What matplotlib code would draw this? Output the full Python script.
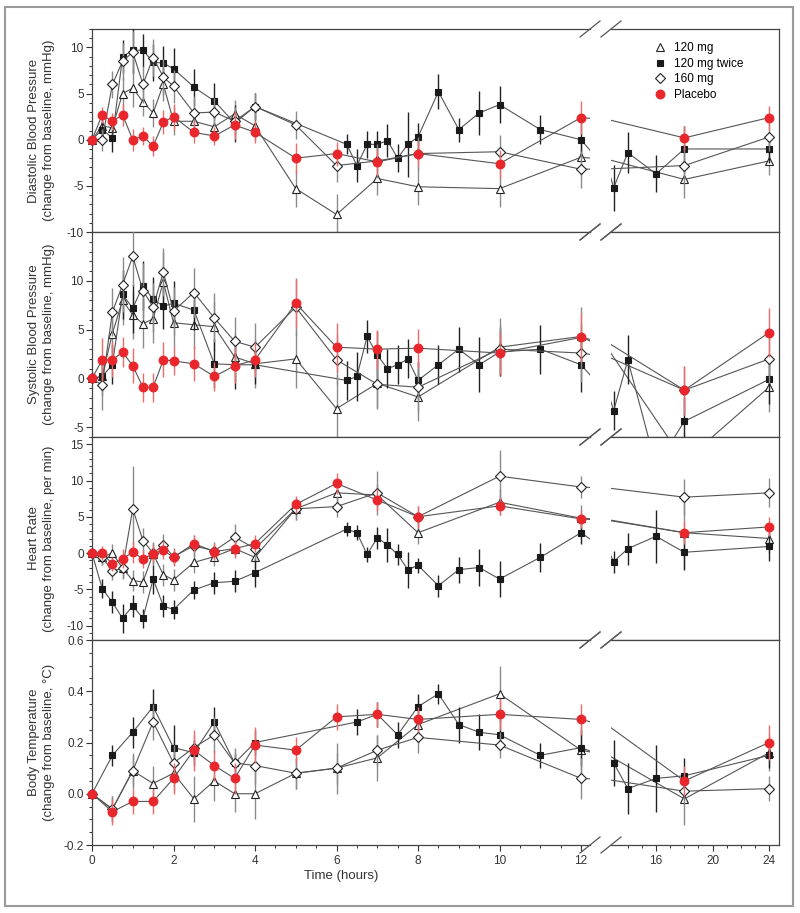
import matplotlib
matplotlib.use("Agg")
import matplotlib.pyplot as plt
import numpy as np
from matplotlib.patches import Rectangle

plt.rcParams['font.family'] = ['Liberation Sans', 'DejaVu Sans']

# ---------------- time points ----------------
t_main = [0, .25, .5, .75, 1, 1.25, 1.5, 1.75, 2, 2.5, 3, 3.5, 4, 5, 6, 7, 8, 10, 12, 18, 24]
t_twice = [0, .25, .5, .75, 1, 1.25, 1.5, 1.75, 2, 2.5, 3, 3.5, 4, 6.25, 6.5, 6.75, 7, 7.25, 7.5,
           7.75, 8, 8.5, 9, 9.5, 10, 11, 12, 13, 14, 16, 18, 24]
t_temp = [0, .5, 1, 1.5, 2, 2.5, 3, 3.5, 4, 5, 6, 7, 8, 10, 12, 18, 24]
t_temp_twice = [0, .5, 1, 1.5, 2, 2.5, 3, 3.5, 4, 6.5, 7, 7.5, 8, 8.5, 9, 9.5, 10, 11, 12, 13, 14, 16, 18, 24]

series_labels = ["120 mg", "120 mg twice", "160 mg", "Placebo"]

# ---------------- Diastolic BP ----------------
dbp_120 = [0, 1.5, 1.3, 5.0, 5.6, 4.1, 2.9, 6.0, 2.0, 2.0, 1.4, 2.8, 1.5, -5.3, -8.1, -4.2, -5.1, -5.3, -1.9, -4.3, -2.3]
dbp_120_err = [0, 1.2, 1.2, 1.8, 2.0, 1.5, 1.5, 1.8, 1.5, 1.5, 1.5, 1.5, 1.5, 2.0, 2.2, 1.8, 2.0, 2.0, 2.0, 2.0, 1.5]
dbp_twice = [0, 1.1, 0.2, 9.0, 9.7, 9.7, 8.4, 8.3, 7.7, 5.7, 4.2, 1.8, 3.6, -0.5, -2.8, -0.5, -0.5, -0.1, -2.0,
             -0.5, 0.3, 5.2, 1.1, 2.9, 3.8, 1.1, 0.0, -5.2, -1.4, -3.7, -1.0, -1.0]
dbp_twice_err = [0, 1.0, 1.5, 1.8, 2.5, 1.8, 2.0, 1.9, 2.2, 2.0, 2.0, 2.0, 1.5, 1.1, 1.8, 1.5, 1.5, 1.8, 1.5,
                 3.5, 1.5, 1.9, 1.3, 2.4, 2.0, 1.6, 2.0, 2.5, 2.2, 2.0, 2.5, 1.5]
dbp_160 = [0, 0.0, 6.0, 8.5, 9.5, 6.0, 8.9, 6.8, 5.8, 2.9, 3.0, 2.0, 3.6, 1.6, -2.8, -2.3, -1.5, -1.3, -3.2, -2.8, 0.3]
dbp_160_err = [0, 1.2, 1.5, 2.0, 2.3, 2.0, 2.0, 2.0, 1.8, 1.8, 1.5, 1.5, 1.5, 1.5, 1.8, 1.8, 1.8, 1.8, 2.0, 2.0, 1.5]
dbp_plc = [0, 2.7, 2.0, 2.7, 0.0, 0.4, -0.7, 1.9, 2.5, 0.8, 0.4, 1.6, 0.8, -2.0, -1.5, -2.4, -1.5, -2.6, 2.4, 0.2, 2.4]
dbp_plc_err = [0, 0.9, 0.9, 1.2, 1.2, 1.0, 1.1, 1.3, 1.4, 1.2, 1.0, 1.5, 1.2, 1.6, 1.3, 1.4, 1.4, 1.5, 1.8, 1.3, 1.3]

# ---------------- Systolic BP ----------------
sbp_120 = [0, 0.2, 4.6, 8.0, 6.5, 5.6, 6.1, 9.9, 5.7, 5.5, 5.3, 2.2, 1.5, 2.0, -3.1, -0.5, -1.9, 3.2, 4.3, -8.5, -0.9]
sbp_120_err = [0, 2.0, 2.0, 2.5, 2.5, 2.5, 2.5, 3.0, 2.5, 2.5, 2.5, 2.5, 2.5, 3.0, 3.5, 2.5, 2.5, 3.0, 3.0, 3.0, 2.5]
sbp_twice = [0, 0.2, 1.4, 8.6, 7.2, 9.5, 8.1, 7.4, 7.7, 7.0, 1.5, 1.4, 1.4, -0.2, 0.2, 4.3, 2.4, 1.0, 1.4,
             2.0, -0.2, 1.4, 3.0, 1.4, 2.7, 3.0, 1.4, -3.3, 1.9, -9.0, -4.4, -0.1]
sbp_twice_err = [0, 1.5, 2.0, 2.5, 2.5, 2.5, 2.3, 2.3, 2.3, 2.0, 2.5, 2.5, 2.0, 2.0, 2.5, 1.7, 2.5, 2.0, 2.0,
                 2.0, 2.0, 2.0, 2.3, 2.8, 2.5, 2.5, 2.8, 2.0, 2.5, 2.5, 2.5, 2.5]
sbp_160 = [0, -0.7, 6.8, 9.6, 12.5, 9.0, 7.3, 10.9, 6.9, 8.8, 6.2, 3.8, 3.2, 7.3, 1.9, -0.6, -0.9, 3.0, 2.6, -1.2, 2.0]
sbp_160_err = [0, 2.5, 2.5, 2.8, 3.0, 2.8, 2.5, 2.5, 2.5, 2.5, 2.5, 2.5, 2.5, 3.0, 2.5, 2.5, 2.5, 2.5, 3.0, 2.5, 2.5]
sbp_plc = [0, 1.9, 1.9, 2.7, 1.3, -0.9, -0.9, 1.9, 1.8, 1.5, 0.2, 1.3, 1.9, 7.7, 3.2, 3.0, 3.1, 2.6, 4.2, -1.2, 4.7]
sbp_plc_err = [0, 2.2, 1.8, 1.5, 1.8, 1.5, 1.5, 1.8, 1.5, 1.8, 1.5, 1.8, 1.8, 2.5, 2.5, 2.0, 2.0, 2.2, 2.5, 2.5, 2.5]

# ---------------- Heart rate ----------------
hr_120 = [0, -0.6, 0.0, -2.1, -3.8, -4.0, -0.1, -3.0, -3.7, -1.3, -0.5, 0.6, -0.6, 6.1, 8.3, 8.0, 2.8, 7.0, 4.8, 2.8, 2.0]
hr_120_err = [0, 1.0, 1.2, 1.5, 1.5, 1.5, 1.5, 1.5, 1.5, 1.5, 1.3, 1.3, 1.5, 1.5, 1.8, 1.5, 1.5, 1.8, 1.8, 5.0, 2.0]
hr_twice = [0, -4.9, -6.8, -9.0, -7.3, -9.0, -3.6, -7.3, -7.8, -5.1, -4.1, -3.9, -2.7, 3.3, 2.8, -0.2, 2.1, 1.1,
            -0.2, -2.3, -1.7, -4.5, -2.3, -2.0, -3.6, -0.6, 2.8, -1.2, 0.6, 2.3, 0.1, 0.9]
hr_twice_err = [0, 1.3, 1.5, 2.0, 1.5, 1.3, 2.0, 1.5, 1.3, 1.3, 1.5, 1.5, 2.0, 1.0, 1.0, 1.0, 1.5, 2.3, 1.5,
                2.5, 1.0, 1.5, 1.8, 2.5, 2.5, 2.0, 1.5, 1.5, 2.2, 3.7, 2.5, 2.0]
hr_160 = [0, -0.6, -2.5, -2.1, 6.1, 1.7, 0.0, 1.1, -0.5, 1.0, 0.3, 2.2, 0.6, 6.1, 6.4, 8.3, 5.0, 10.6, 9.1, 7.7, 8.3]
hr_160_err = [0, 1.0, 1.2, 1.3, 5.9, 1.8, 1.5, 1.5, 1.2, 1.5, 1.2, 1.8, 1.5, 1.5, 1.5, 3.0, 1.5, 3.6, 1.5, 2.5, 2.0]
hr_plc = [0, 0.0, -1.5, -0.8, 0.1, -0.8, -0.1, 0.4, -0.6, 1.3, 0.2, 0.6, 1.3, 6.7, 9.6, 7.3, 5.0, 6.5, 4.7, 2.8, 3.6]
hr_plc_err = [0, 1.0, 1.0, 1.3, 1.5, 1.2, 1.2, 1.2, 1.2, 1.2, 1.2, 1.2, 1.2, 1.2, 1.5, 1.5, 1.5, 1.2, 1.2, 1.5, 1.3]

# ---------------- Body temperature ----------------
bt_120 = [0, -0.06, 0.09, 0.04, 0.08, -0.02, 0.05, 0.0, 0.0, 0.08, 0.10, 0.14, 0.27, 0.39, 0.17, -0.02, 0.16]
bt_120_err = [0, 0.05, 0.07, 0.07, 0.07, 0.09, 0.08, 0.07, 0.10, 0.06, 0.10, 0.09, 0.07, 0.11, 0.10, 0.10, 0.07]
bt_twice = [0, 0.15, 0.24, 0.34, 0.18, 0.16, 0.28, 0.12, 0.20, 0.28, 0.31, 0.23, 0.34, 0.39, 0.27, 0.24, 0.23,
            0.15, 0.18, 0.12, 0.02, 0.06, 0.07, 0.15]
bt_twice_err = [0, 0.04, 0.06, 0.07, 0.09, 0.05, 0.06, 0.04, 0.05, 0.05, 0.05, 0.05, 0.05, 0.04, 0.07, 0.07,
                0.06, 0.05, 0.07, 0.09, 0.10, 0.13, 0.07, 0.05]
bt_160 = [0, -0.06, 0.09, 0.28, 0.12, 0.18, 0.23, 0.12, 0.11, 0.08, 0.10, 0.17, 0.22, 0.19, 0.06, 0.01, 0.02]
bt_160_err = [0, 0.05, 0.06, 0.07, 0.07, 0.05, 0.07, 0.06, 0.07, 0.06, 0.06, 0.06, 0.06, 0.05, 0.08, 0.05, 0.05]
bt_plc = [0, -0.07, -0.03, -0.03, 0.06, 0.17, 0.11, 0.06, 0.19, 0.17, 0.30, 0.31, 0.29, 0.31, 0.29, 0.05, 0.20]
bt_plc_err = [0, 0.05, 0.05, 0.05, 0.06, 0.08, 0.06, 0.06, 0.07, 0.05, 0.05, 0.05, 0.05, 0.06, 0.06, 0.06, 0.07]

ylabels = ["Diastolic Blood Pressure\n(change from baseline, mmHg)",
           "Systolic Blood Pressure\n(change from baseline, mmHg)",
           "Heart Rate\n(change from baseline, per min)",
           "Body Temperature\n(change from baseline, \u00b0C)"]

# tick values (labelled) for each panel
dbp_ticks = [-10, -5, 0, 5, 10]
sbp_ticks = [-5, 0, 5, 10]
hr_ticks = [-10, -5, 0, 5, 10, 15]
bt_ticks = [-0.2, 0.0, 0.2, 0.4, 0.6]

panels = [
    dict(t=t_main, tt=t_twice, data=[(dbp_120, dbp_120_err), (dbp_twice, dbp_twice_err), (dbp_160, dbp_160_err), (dbp_plc, dbp_plc_err)],
         ylim=(-10, 12), ticks=dbp_ticks, minor=1, fmt="{:.0f}"),
    dict(t=t_main, tt=t_twice, data=[(sbp_120, sbp_120_err), (sbp_twice, sbp_twice_err), (sbp_160, sbp_160_err), (sbp_plc, sbp_plc_err)],
         ylim=(-6, 15), ticks=sbp_ticks, minor=1, fmt="{:.0f}"),
    dict(t=t_main, tt=t_twice, data=[(hr_120, hr_120_err), (hr_twice, hr_twice_err), (hr_160, hr_160_err), (hr_plc, hr_plc_err)],
         ylim=(-12, 16), ticks=hr_ticks, minor=1, fmt="{:.0f}"),
    dict(t=t_temp, tt=t_temp_twice, data=[(bt_120, bt_120_err), (bt_twice, bt_twice_err), (bt_160, bt_160_err), (bt_plc, bt_plc_err)],
         ylim=(-0.2, 0.6), ticks=bt_ticks, minor=0.05, fmt="{:.1f}"),
]

styles = [
    dict(marker='^', mfc='white', mec='#222222', ms=6.3, ecolor='#8a8a8a', mew=0.8),
    dict(marker='s', mfc='#1a1a1a', mec='#1a1a1a', ms=5.0, ecolor='#222222', mew=0.8),
    dict(marker='D', mfc='white', mec='#222222', ms=5.3, ecolor='#8a8a8a', mew=0.8),
    dict(marker='o', mfc='#e8262b', mec='#e8262b', ms=6.3, ecolor='#f06a6a', mew=0.8),
]
line_color = '#555555'

W, H = 800, 913
fig = plt.figure(figsize=(W / 100, H / 100), dpi=100)

# outer frame like the source image
fig.add_artist(Rectangle((5 / W, 1 - 906 / H), 788 / W, 899 / H, transform=fig.transFigure,
                         fill=False, ec='#9a9a9a', lw=1.5))

panel_px = [(29, 232), (232, 437), (437, 640), (640, 845)]
left_px = (92, 590)
right_px = (611, 779)
xl_left = (0, 12.22)
xl_right = (12.81, 24.7)


def fx(px):
    return px / W


def fy(py):
    return 1 - py / H


def draw_marks(ax, xfrac, yfrac):
    kw = dict(transform=fig.transFigure, color='#555555', lw=0.9, clip_on=False)
    x = ax.transAxes.transform((xfrac, yfrac))
    xf, yf = fig.transFigure.inverted().transform(x)
    fig.add_artist(plt.Line2D([xf - 10 / W, xf + 10 / W], [yf - 8 / H, yf + 8 / H], **kw))


for i, p in enumerate(panels):
    top, bot = panel_px[i]
    axL = fig.add_axes([fx(left_px[0]), fy(bot), fx(left_px[1] - left_px[0]), (bot - top) / H])
    axR = fig.add_axes([fx(right_px[0]), fy(bot), fx(right_px[1] - right_px[0]), (bot - top) / H], sharey=axL)
    for ax, xl in ((axL, xl_left), (axR, xl_right)):
        ax.set_xlim(*xl)
        ax.set_ylim(*p['ylim'])
        for k, (vals, errs) in enumerate(p['data']):
            st = styles[k]
            tt = p['tt'] if k == 1 else p['t']
            tt = np.asarray(tt, float)
            v = np.asarray(vals, float)
            e = np.asarray(errs, float)
            z = 2 + k
            ax.errorbar(tt, v, yerr=e, fmt='none', ecolor=st['ecolor'], elinewidth=1.0, capsize=0, zorder=z)
            ax.plot(tt, v, '-', color=line_color, lw=0.8, zorder=z + 0.1)
            inside = (tt >= xl[0]) & (tt <= xl[1]) & (v >= p['ylim'][0]) & (v <= p['ylim'][1])
            ax.plot(tt[inside], v[inside], linestyle='none', marker=st['marker'], mfc=st['mfc'], mec=st['mec'],
                    ms=st['ms'], mew=st['mew'], zorder=z + 0.2, clip_on=False,
                    label=series_labels[k])
        for s in ax.spines.values():
            s.set_color('#444444')
            s.set_linewidth(0.9)
    axL.spines['right'].set_visible(False)
    axR.spines['left'].set_visible(False)

    axL.set_yticks(p['ticks'])
    axL.set_yticklabels([p['fmt'].format(y) for y in p['ticks']])
    axL.set_yticks(np.arange(p['ylim'][0], p['ylim'][1] + 1e-9, p['minor']), minor=True)
    axL.tick_params(axis='y', which='major', length=4, width=0.8, labelsize=8.5, colors='#333333', pad=2)
    axL.tick_params(axis='y', which='minor', length=2.5, width=0.7, colors='#333333')
    axR.tick_params(axis='y', which='both', left=False, right=False, labelleft=False)
    axL.set_ylabel(ylabels[i], fontsize=9.5, color='#333333', linespacing=1.25)
    axL.yaxis.set_label_coords(-0.075, 0.5)

    if i == 3:
        axL.set_xticks([0, 2, 4, 6, 8, 10, 12])
        axL.set_xticks(np.arange(0, 12.01, 0.5), minor=True)
        axR.set_xticks([16, 20, 24])
        axR.set_xticks(np.arange(14, 24.01, 1), minor=True)
        for ax in (axL, axR):
            ax.tick_params(axis='x', which='major', length=4, width=0.8, labelsize=8.5, colors='#333333', pad=3)
            ax.tick_params(axis='x', which='minor', length=2.5, width=0.7, colors='#333333')
        axL.set_xlabel("Time (hours)", fontsize=9.5, color='#333333', labelpad=4)
        axL.xaxis.set_label_coords(0.5, -0.12)
    else:
        for ax in (axL, axR):
            ax.tick_params(axis='x', which='both', bottom=False, labelbottom=False)

    # break marks
    for ax, xf in ((axL, 1.0), (axR, 0.0)):
        draw_marks(ax, xf, 1.0)
        draw_marks(ax, xf, 0.0)

    if i == 0:
        axR.legend(loc='upper right', bbox_to_anchor=(0.83, 0.97), frameon=False, fontsize=8.5,
                   handletextpad=0.6, labelspacing=0.3, borderaxespad=0.2, handlelength=1.2)

fig.savefig("out.png", dpi=100)
